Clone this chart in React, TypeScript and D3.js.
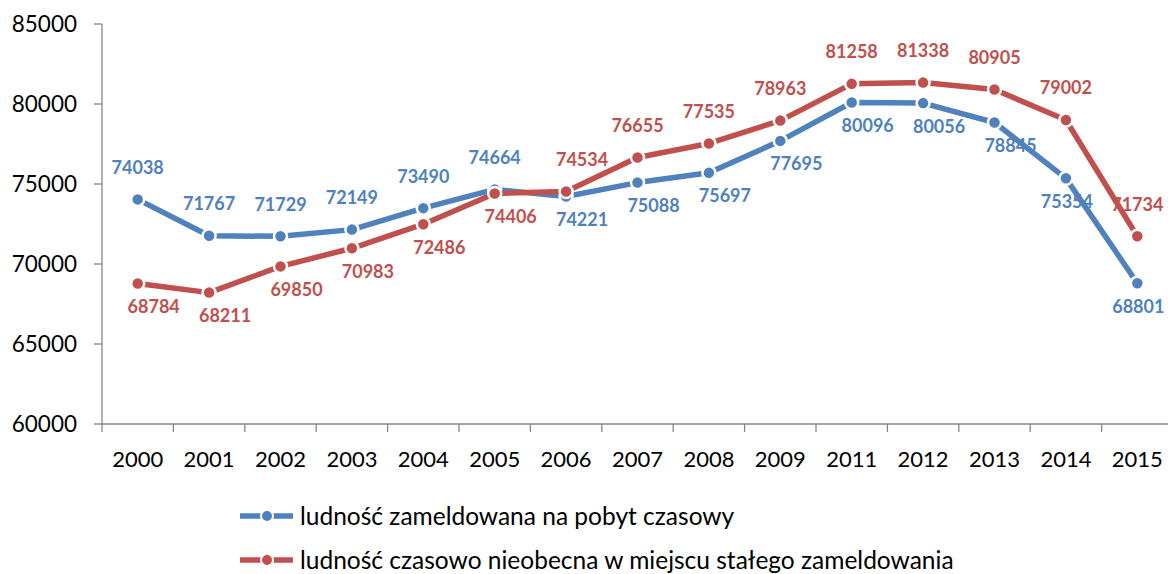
import React, { useEffect, useRef } from "react";
import * as d3 from "d3";

const years = ["2000", "2001", "2002", "2003", "2004", "2005", "2006", "2007", "2008", "2009", "2011", "2012", "2013", "2014", "2015"];
const zameldowana = [74038, 71767, 71729, 72149, 73490, 74664, 74221, 75088, 75697, 77695, 80096, 80056, 78845, 75354, 68801];
const nieobecna = [68784, 68211, 69850, 70983, 72486, 74406, 74534, 76655, 77535, 78963, 81258, 81338, 80905, 79002, 71734];
const yTicks = [60000, 65000, 70000, 75000, 80000, 85000];
const seriesNames = ["ludność zameldowana na pobyt czasowy", "ludność czasowo nieobecna w miejscu stałego zameldowania"];

// label placement: a = above, ar = above-right, b = below-right, c = below-centre
const zameldowanaPos = ["a", "a", "a", "a", "a", "a", "b", "b", "b", "b", "b", "b", "b", "c", "c"];
const nieobecnaPos = ["b", "b", "b", "b", "b", "b", "ar", "a", "a", "a", "a", "a", "a", "a", "a"];

const W = 1168, H = 574;
const margin = { left: 102, top: 24, right: 1173, bottom: 424 };
const FONT = "Lato, 'Open Sans', sans-serif";

const App = () => {
  const ref = useRef<SVGSVGElement>(null);

  useEffect(() => {
    const svg = d3.select(ref.current);
    svg.selectAll("*").remove();

    const x = d3.scalePoint<string>().domain(years).range([margin.left, margin.right]).padding(0.5);
    const y = d3.scaleLinear().domain([60000, 85000]).range([margin.bottom, margin.top]);
    const step = x.step();

    const axisColor = "#868686";
    // y axis
    svg.append("line")
      .attr("x1", margin.left).attr("x2", margin.left)
      .attr("y1", margin.top).attr("y2", margin.bottom)
      .attr("stroke", axisColor).attr("stroke-width", 1.3);
    yTicks.forEach((t) => {
      svg.append("line")
        .attr("x1", margin.left - 8).attr("x2", margin.left)
        .attr("y1", y(t)).attr("y2", y(t))
        .attr("stroke", axisColor).attr("stroke-width", 1.3);
      svg.append("text")
        .attr("x", 77).attr("y", y(t)).attr("dy", "0.36em")
        .attr("text-anchor", "end")
        .attr("font-family", FONT).attr("font-size", 22.5).attr("fill", "#000")
        .text(t);
    });

    // x axis
    svg.append("line")
      .attr("x1", margin.left).attr("x2", margin.right)
      .attr("y1", margin.bottom).attr("y2", margin.bottom)
      .attr("stroke", axisColor).attr("stroke-width", 1.3);
    years.forEach((yr, i) => {
      const bx = margin.left + i * step;
      svg.append("line")
        .attr("x1", bx).attr("x2", bx)
        .attr("y1", margin.bottom).attr("y2", margin.bottom + 8)
        .attr("stroke", axisColor).attr("stroke-width", 1.3);
      svg.append("text")
        .attr("x", x(yr)!).attr("y", 467)
        .attr("text-anchor", "middle")
        .attr("font-family", FONT).attr("font-size", 22).attr("fill", "#000")
        .text(yr);
    });

    const series = [
      { values: zameldowana, pos: zameldowanaPos, color: "#4F81BD" },
      { values: nieobecna, pos: nieobecnaPos, color: "#C0504D" },
    ];

    const line = d3.line<number>()
      .x((d, i) => x(years[i])!)
      .y((d) => y(d));

    series.forEach((s) => {
      svg.append("path")
        .datum(s.values)
        .attr("fill", "none")
        .attr("stroke", s.color)
        .attr("stroke-width", 5.5)
        .attr("stroke-linejoin", "round")
        .attr("d", line);
      svg.selectAll(null)
        .data(s.values)
        .enter()
        .append("circle")
        .attr("cx", (d, i) => x(years[i])!)
        .attr("cy", (d) => y(d))
        .attr("r", 6.5)
        .attr("fill", s.color)
        .attr("stroke", "#fff")
        .attr("stroke-width", 2.5);
    });

    series.forEach((s) => {
      svg.selectAll(null)
        .data(s.values)
        .enter()
        .append("text")
        .attr("x", (d, i) => {
          const p = s.pos[i];
          const dx = p === "b" || p === "ar" ? 16 : p === "c" ? 1 : 0;
          return x(years[i])! + dx;
        })
        .attr("y", (d, i) => {
          const p = s.pos[i];
          return y(d) + (p === "a" || p === "ar" ? -32 : 23);
        })
        .attr("dy", "0.36em")
        .attr("text-anchor", "middle")
        .attr("font-family", FONT).attr("font-size", 18).attr("font-weight", "bold")
        .attr("fill", s.color)
        .text((d) => d);
    });

    // legend
    series.forEach((s, i) => {
      const ly = 516 + i * 44;
      const g = svg.append("g");
      g.append("line")
        .attr("x1", 240).attr("x2", 293)
        .attr("y1", ly).attr("y2", ly)
        .attr("stroke", s.color).attr("stroke-width", 5.5);
      g.append("circle")
        .attr("cx", 267).attr("cy", ly).attr("r", 6)
        .attr("fill", s.color).attr("stroke", "#fff").attr("stroke-width", 2);
      g.append("text")
        .attr("x", 300).attr("y", ly).attr("dy", "0.36em")
        .attr("font-family", FONT).attr("font-size", 24.5).attr("fill", "#000")
        .text(seriesNames[i]);
    });
  }, []);

  return (
    <svg ref={ref} width={W} height={H}
      style={{ position: "absolute", left: 0, top: 0, background: "#fff" }} />
  );
};

export default App;
